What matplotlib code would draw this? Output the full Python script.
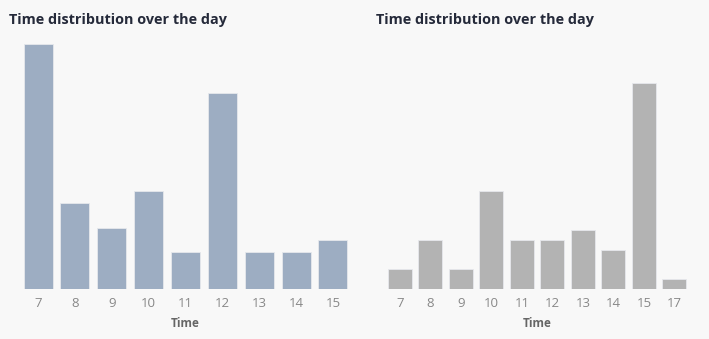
import matplotlib.pyplot as plt
import numpy as np

# hour-of-day counts for the two panels
hours_a = ['7', '8', '9', '10', '11', '12', '13', '14', '15']
counts_a = [20, 7, 5, 8, 3, 16, 3, 3, 4]

hours_b = ['7', '8', '9', '10', '11', '12', '13', '14', '15', '17']
counts_b = [2, 5, 2, 10, 5, 5, 6, 4, 21, 1]

bg = '#f8f8f8'
plt.rcParams['font.family'] = ['Open Sans', 'DejaVu Sans']

fig = plt.figure(figsize=(7.09, 3.39), dpi=100, facecolor=bg)

panels = [
    (hours_a, counts_a, '#9dadc2', [0.0329, 0.1484, 0.4575, 0.7218], 20, 0.012),
    (hours_b, counts_b, '#b3b3b3', [0.5468, 0.1484, 0.4217, 0.7218], 25, 0.530),
]

for hours, counts, color, rect, ymax, title_x in panels:
    ax = fig.add_axes(rect)
    ax.set_facecolor(bg)
    x = np.arange(len(hours))
    ax.bar(x, counts, width=0.785, color=color, edgecolor='#e6e8ec', linewidth=0.6)
    ax.set_xlim(-0.4, len(hours) - 0.6)
    ax.set_ylim(0, ymax)
    ax.set_xticks(x)
    ax.set_xticklabels(hours, fontsize=9.5, color='#888888')
    ax.tick_params(axis='x', length=0, pad=6)
    ax.set_yticks([])
    for s in ax.spines.values():
        s.set_visible(False)
    ax.set_xlabel('Time', fontsize=8.5, fontweight='bold', color='#666666', labelpad=5)
    fig.text(title_x, 0.942, 'Time distribution over the day', fontsize=10.4,
             fontweight='bold', color='#252a3a', ha='left', va='center')

fig.savefig('out.png', dpi=100, facecolor=bg)
